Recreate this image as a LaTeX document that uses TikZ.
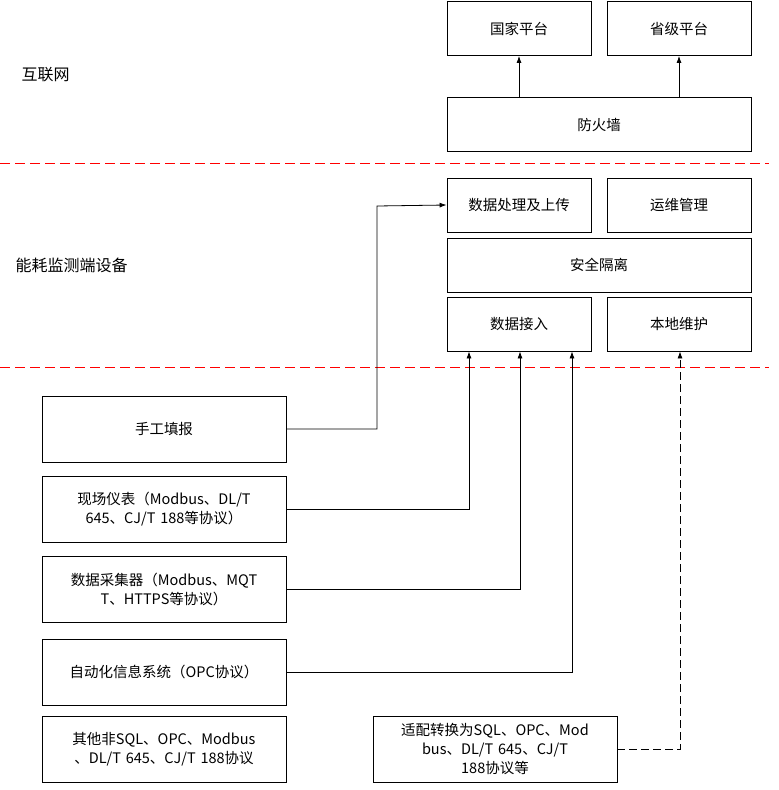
\documentclass[tikz,border=0pt]{standalone}
\usepackage{fontspec}
\setmainfont{Noto Sans CJK SC}
\usetikzlibrary{positioning,arrows.meta}
\definecolor{zonered}{RGB}{255,0,0}
\tikzset{
  blk/.style={draw,line width=0.8pt,minimum width=144pt,minimum height=54pt,inner sep=2pt,align=center,font=\fontsize{14.5}{19}\selectfont},
  wideblk/.style={blk,minimum width=304pt},
  srcblk/.style={blk,minimum width=244pt,minimum height=66pt,text width=238pt},
  zone/.style={draw=zonered,dash pattern=on 10pt off 5pt,line width=1pt},
  link/.style={-{Latex[length=7pt,width=5pt]},line width=0.8pt}
}
\begin{document}
\begin{tikzpicture}[x=1pt,y=-1pt]
  \useasboundingbox (0,0) rectangle (779,790);

  % Internet side
  \node [blk] (nation) at (519,28.5) {国家平台};
  \node [blk] (prov) at (679,28.5) {省级平台};
  \node [wideblk] (firewall) at (599,124.5) {防火墙};
  \node [anchor=west,font=\fontsize{16}{19}\selectfont] (inet) at (18,75) {互联网};

  % zone borders
  \path [zone] (0,163) -- (769,163);
  \path [zone] (0,367) -- (769,367);

  % Monitoring device
  \node [anchor=west,font=\fontsize{16}{19}\selectfont] (dev) at (12,265) {能耗监测端设备};
  \node [blk] (upload) at (519,205) {数据处理及上传};
  \node [blk] (ops) at (679,205) {运维管理};
  \node [wideblk] (isolate) at (599,265) {安全隔离};
  \node [blk] (access) at (519,324) {数据接入};
  \node [blk] (local) at (679,324) {本地维护};

  % Data sources
  \node [srcblk] (manual) at (164,429) {手工填报};
  \node [srcblk] (meter) at (164,509.5) {现场仪表（Modbus、DL/T\\645、CJ/T 188等协议）};
  \node [srcblk] (collector) at (164,589.5) {数据采集器（Modbus、MQT\\T、HTTPS等协议）};
  \node [srcblk] (auto) at (164,672) {自动化信息系统（OPC协议）};
  \node [srcblk] (other) at (164,749) {其他非SQL、OPC、Modbus\\、DL/T 645、CJ/T 188协议};
  \node [srcblk] (adapt) at (495,749) {适配转换为SQL、OPC、Mod\\bus、DL/T 645、CJ/T\\188协议等};

  % Connectors
  \draw [link] (firewall.north -| nation) -- (nation);
  \draw [link] (firewall.north -| prov) -- (prov);
  \draw [link] (manual.east) -| (377,206) -- (upload.west);
  \draw [link] (meter.east) -| ([xshift=-50pt]access.south);
  \draw [link] (collector.east) -| ([xshift=1pt]access.south);
  \draw [link] (auto.east) -| ([xshift=53pt]access.south);
  \draw [link,dash pattern=on 8pt off 4pt] (adapt.east) -| ([xshift=1pt]local.south);
\end{tikzpicture}
\end{document}
